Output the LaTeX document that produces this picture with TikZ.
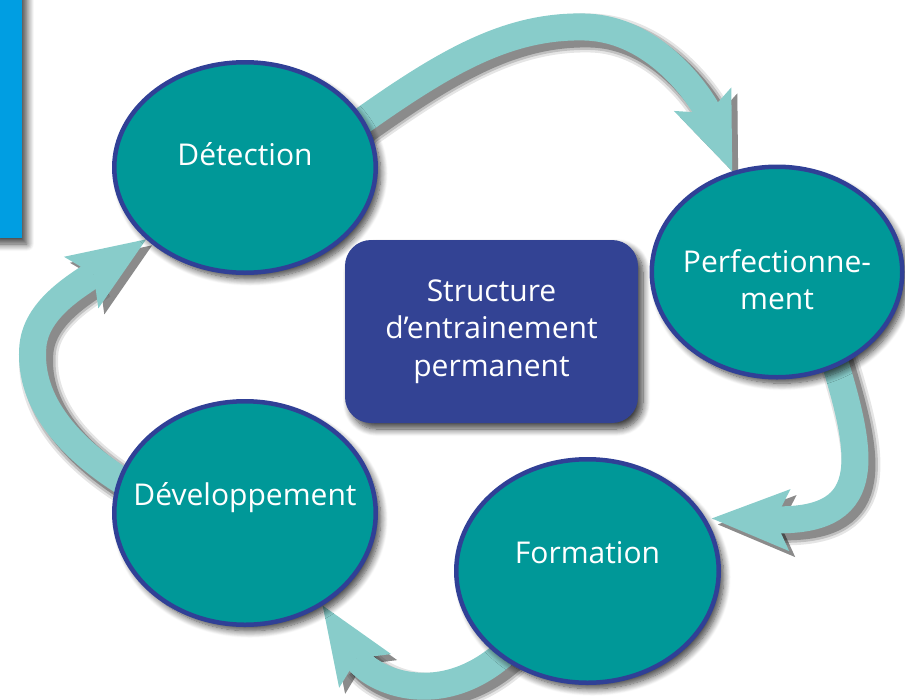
\documentclass[tikz,border=0pt]{standalone}
\usepackage{fontspec}
\setmainfont{Open Sans}
\usetikzlibrary{shapes.geometric,shadows,shadows.blur,arrows.meta}
\definecolor{stagefill}{RGB}{0,152,152}
\definecolor{stagering}{RGB}{48,64,150}
\definecolor{corefill}{RGB}{51,67,148}
\definecolor{loopteal}{RGB}{136,204,202}
\definecolor{sidebar}{RGB}{0,158,226}
\tikzstyle{softshadow}=[blur shadow={shadow xshift=5pt,shadow yshift=-6pt,shadow blur radius=7pt,shadow blur steps=10,shadow opacity=75}]
\tikzstyle{stage}=[ellipse,draw=stagering,line width=4.5pt,fill=stagefill,text=white,inner xsep=-30pt,inner ysep=0pt,align=center,softshadow]
\tikzstyle{core}=[rectangle,rounded corners=26pt,fill=corefill,text=white,align=center,inner sep=0pt,minimum width=293pt,minimum height=183pt,softshadow]
\tikzstyle{cyclearrow}=[line width=27pt,-{Stealth[length=78pt,width=62pt,inset=15pt,line width=0pt]}]
\pgfdeclarelayer{back}
\pgfsetlayers{back,main}

\begin{document}
\begin{tikzpicture}[x=1pt,y=-1pt,font=\fontsize{30}{37.5}\selectfont]
\useasboundingbox (0,0) rectangle (905,699);

% side bar
\fill[sidebar,softshadow] (-10,-10) rectangle (22,238);

% stages
\node[stage,minimum width=261.5pt,minimum height=210.5pt,text height=22pt,text depth=26pt] (det) at (245,167.5) {Détection};
\node[stage,minimum width=250.5pt,minimum height=210.5pt] (perf) at (777,272) {\rule{0pt}{38pt}Perfectionne-\\ment};
\node[stage,minimum width=262.5pt,minimum height=223.5pt,text height=22pt,text depth=37pt] (form) at (587.5,571) {Formation};
\node[stage,minimum width=261.5pt,minimum height=223.5pt,text height=22pt,text depth=37pt] (dev) at (245,513) {Développement};

% centre
\node[core] (core) at (491.5,331.5) {Structure\\d’entrainement\\permanent};

% arrows (shadow passes, then colour)
\begin{pgfonlayer}{back}
\foreach \col/\wd/\op/\sh in {black/39/0.1/6, black/34/0.16/6, black/29/0.28/6, loopteal/27/1/0}
{
  \begin{scope}[transform canvas={xshift=\sh pt,yshift=-\sh pt},color=\col,opacity=\op,cyclearrow,line width=\wd pt]
    \draw[shorten <=-20pt] (det.22) .. controls (440,65) and (505,25) .. (585,27)
        .. controls (660,29) and (705,105) .. (perf.114);
    \draw[shorten <=-20pt,shorten >=6pt] (perf.-58) .. controls (862,450) and (880,522) .. (form.24);
    \draw[shorten <=-20pt] (form.225) .. controls (445,715) and (371,680) .. (dev.-50);
    \draw[shorten <=-20pt] (dev.165) .. controls (60,445) and (28,395) .. (33,345)
        .. controls (37,310) and (73,288) .. (det.216);
  \end{scope}
}
\end{pgfonlayer}

\end{tikzpicture}
\end{document}
